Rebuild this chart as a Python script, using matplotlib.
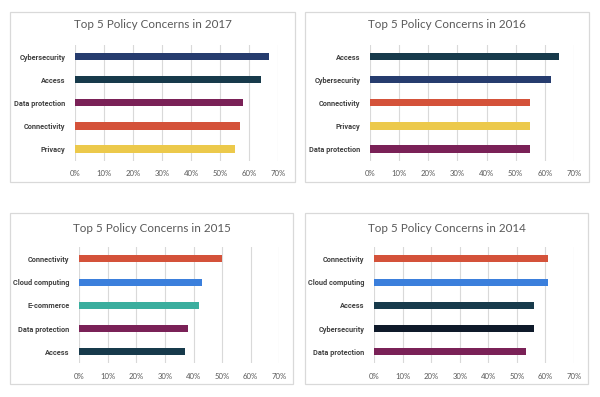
import matplotlib
matplotlib.use("Agg")
import matplotlib.pyplot as plt
from matplotlib.patches import Rectangle
from matplotlib.ticker import FuncFormatter

# Data (top-to-bottom order in each chart)
years = ["2017", "2016", "2015", "2014"]
cats_2017 = ["Cybersecurity", "Access", "Data protection", "Connectivity", "Privacy"]
vals_2017 = [67, 64, 58, 57, 55]
cats_2016 = ["Access", "Cybersecurity", "Connectivity", "Privacy", "Data protection"]
vals_2016 = [65, 62, 55, 55, 55]
cats_2015 = ["Connectivity", "Cloud computing", "E-commerce", "Data protection", "Access"]
vals_2015 = [50, 43, 42, 38, 37]
cats_2014 = ["Connectivity", "Cloud computing", "Access", "Cybersecurity", "Data protection"]
vals_2014 = [61, 61, 56, 56, 53]
xticks = [0, 10, 20, 30, 40, 50, 60, 70]

colors_2017 = ["#263c6e", "#173a4b", "#7a2157", "#d4523a", "#ecc94b"]
colors_2016 = ["#173a4b", "#263c6e", "#d4523a", "#ecc94b", "#7a2157"]
colors_2015 = ["#d4523a", "#3b7fdc", "#3aae9e", "#7a2157", "#173a4b"]
colors_2014 = ["#d4523a", "#3b7fdc", "#173a4b", "#0f1a2a", "#7a2157"]

W, H = 600, 397
fig = plt.figure(figsize=(W / 100, H / 100), dpi=100)
fig.patch.set_facecolor("white")

# (frame px: x0, y0, x1, y1), (axes px: x0, x1, ytop, ybottom), title y px
panels = [
    (cats_2017, vals_2017, colors_2017, "2017", (10, 12, 295, 182), (75, 278, 45.1, 160.6), 25),
    (cats_2016, vals_2016, colors_2016, "2016", (305, 12, 589, 182), (370, 574, 45.1, 160.6), 25),
    (cats_2015, vals_2015, colors_2015, "2015", (10, 213, 293, 384), (79.3, 279.3, 247.3, 363.3), 228),
    (cats_2014, vals_2014, colors_2014, "2014", (305, 213, 588, 384), (374.3, 574, 247.3, 363.3), 228),
]

fam = ["Lato", "DejaVu Sans"]
famb = ["Roboto", "DejaVu Sans"]

for cats, vals, cols, yr, fr, ax_px, ty in panels:
    fx0, fy0, fx1, fy1 = fr
    fig.patches.append(Rectangle((fx0 / W, 1 - fy1 / H), (fx1 - fx0) / W, (fy1 - fy0) / H,
                                 transform=fig.transFigure, facecolor="none",
                                 edgecolor="#d9d9d9", linewidth=0.9, zorder=-5))
    x0, x1, yt, yb = ax_px
    ax = fig.add_axes([x0 / W, 1 - yb / H, (x1 - x0) / W, (yb - yt) / H])
    ax.set_facecolor("none")
    n = len(cats)
    pos = list(range(n - 1, -1, -1))
    ax.barh(pos, vals, height=0.31, color=cols, zorder=3)
    ax.set_xlim(0, 70)
    ax.set_ylim(-0.5, n - 0.5)
    ax.set_xticks(xticks)
    ax.xaxis.set_major_formatter(FuncFormatter(lambda v, p: f"{int(v)}%"))
    ax.set_yticks(pos)
    ax.set_yticklabels(cats, fontsize=5.3, fontweight="bold", color="#404040", family=famb)
    for lab in ax.get_xticklabels():
        lab.set_fontsize(5.6)
        lab.set_color("#595959")
        lab.set_family(fam)
    ax.tick_params(axis="both", length=0)
    ax.tick_params(axis="y", pad=7)
    ax.tick_params(axis="x", pad=7)
    ax.grid(axis="x", color="#d9d9d9", linewidth=0.8, zorder=0)
    for s in ax.spines.values():
        s.set_visible(False)
    tx = (fx0 + fx1) / 2
    fig.text(tx / W, 1 - ty / H, f"Top 5 Policy Concerns in {yr}", ha="center", va="center",
             fontsize=8.4, color="#595959", family=fam)

fig.savefig("out.png", dpi=100, facecolor="white")
